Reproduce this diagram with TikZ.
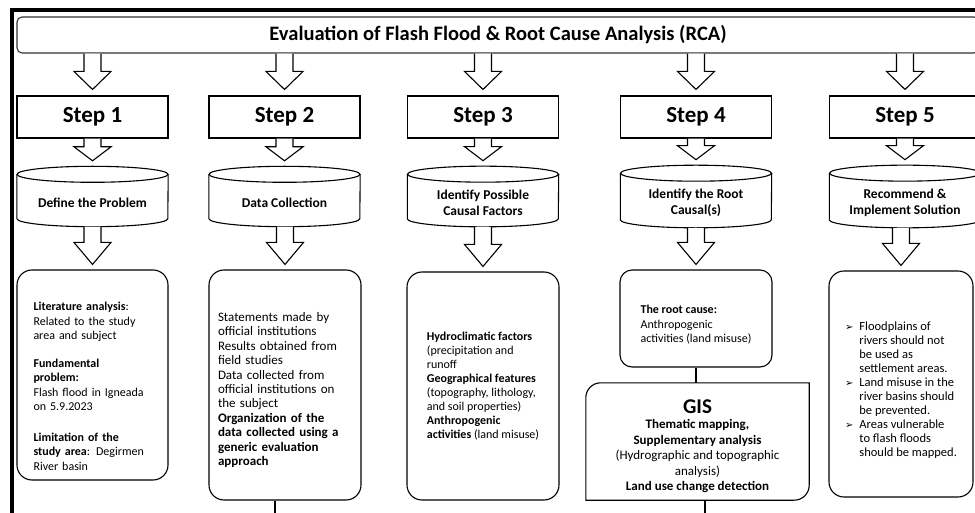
\documentclass[tikz,border=0pt]{standalone}
\usepackage{fontspec}
\setmainfont{Carlito}
\newfontfamily\symfont{DejaVu Sans}
\usetikzlibrary{calc}

% hollow block arrow: source, target, head length
\newcommand{\barrow}[3]{%
  \draw[thin block] let \p1=(#1), \p2=(#2) in
    (\x2-8.5pt,\y1) -- (\x2-8.5pt,\y2+#3) -- (\x2-18.5pt,\y2+#3) -- (\x2,\y2)
    -- (\x2+18.5pt,\y2+#3) -- (\x2+8.5pt,\y2+#3) -- (\x2+8.5pt,\y1);}

% drum outline round a cylinder body node
\newcommand{\drum}[1]{%
  \draw[line width=1.1pt] (#1.north west) -- (#1.south west)
    arc[start angle=180, end angle=360, x radius=75.5pt, y radius=8pt] -- (#1.north east);
  \draw[line width=1.1pt] (#1.north) ellipse [x radius=75.5pt, y radius=8pt];}

\newcommand{\bul}{{\symfont\fontsize{10}{10}\selectfont ➢}}

\begin{document}
\begin{tikzpicture}[x=1pt,y=1pt,
  thin block/.style={draw=black,line width=1.1pt,fill=white},
  title box/.style={draw=black!80,line width=1.1pt,rounded corners=5pt,minimum width=962pt,
    minimum height=36pt,font=\bfseries\fontsize{20.5}{23}\selectfont},
  stepbox/.style={draw,line width=1.1pt,minimum width=151pt,minimum height=42pt,
    font=\bfseries\fontsize{23}{26}\selectfont},
  drum body/.style={minimum width=151pt,minimum height=44pt,align=center,
    font=\bfseries\fontsize{13.5}{15.5}\selectfont},
  text box/.style={draw,line width=1.1pt,rounded corners=15pt,align=left,
    font=\fontsize{12}{14.5}\selectfont}]

  \clip (0,0) rectangle (975,512);

  % outer frame
  \draw[line width=3.5pt] (12,-20) -- (12,502) -- (1000,502);

  \node[title box] (title) at (498,477) {Evaluation of Flash Flood \& Root Cause Analysis (RCA)};

  \node[stepbox] (s1) at (92.5,395) {Step 1};
  \node[stepbox] (s2) at (284.5,395) {Step 2};
  \node[stepbox] (s3) at (483,395) {Step 3};
  \node[stepbox] (s4) at (696,395) {Step 4};
  \node[stepbox] (s5) at (905,395) {Step 5};

  \node[drum body] (c1) at (92.5,315.5) {\rule{0pt}{22pt}Define the Problem};
  \node[drum body] (c2) at (284.5,315.5) {\rule{0pt}{22pt}Data Collection};
  \node[drum body] (c3) at (483,315.5) {\rule{0pt}{22pt}Identify Possible\\Causal Factors};
  \node[drum body] (c4) at (696,315.5) {\rule{0pt}{22pt}Identify the Root\\Causal(s)};
  \node[drum body] (c5) at (905,315.5) {\rule{0pt}{22pt}Recommend \&\\Implement Solution};
  \foreach \c in {c1,c2,c3,c4,c5} {\drum{\c}}

  \node[text box,inner xsep=16.5pt,text width=118pt,minimum height=210pt] (b1) at (92.5,137)
    {\rule{0pt}{31pt}\textbf{Literature analysis}:\\Related to the study\\area and subject\\[13pt]
     \textbf{Fundamental}\\\textbf{problem:}\\Flash flood in Igneada\\on 5.9.2023\\[16pt]
     \textbf{Limitation of the}\\\textbf{study area}: Degirmen\\River basin};
  \node[text box,inner xsep=9pt,text width=134pt,minimum height=230pt,
    font=\fontsize{13}{14.4}\selectfont] (b2) at (285,127)
    {\rule{0pt}{19pt}Statements made by\\official institutions\\Results obtained from\\field studies\\
     Data collected from\\official institutions on\\the subject\\
     \textbf{Organization of the}\\\textbf{data collected using a}\\
     \textbf{generic evaluation}\\\textbf{approach}};
  \node[text box,minimum width=152pt,minimum height=228pt,
    font=\fontsize{12}{14}\selectfont] (b3) at (483,126)
    {\textbf{Hydroclimatic factors}\\(precipitation and\\runoff\\
     \textbf{Geographical features}\\(topography, lithology,\\and soil properties)\\
     \textbf{Anthropogenic}\\\textbf{activities} (land misuse)};
  \node[text box,rounded corners=12pt,minimum width=152pt,minimum height=97pt] (root) at (696,193.5)
    {\rule{0pt}{21pt}\textbf{The root cause:}\\Anthropogenic\\activities (land misuse)};
  \node[align=center,minimum width=223pt,minimum height=117pt,
    font=\fontsize{13}{15.5}\selectfont] (gis) at (697.5,70.5)
    {\rule{0pt}{23pt}{\bfseries\fontsize{21}{24}\selectfont GIS}\\\textbf{Thematic mapping,}\\
     \textbf{Supplementary analysis}\\(Hydrographic and topographic\\analysis)\\
     \textbf{Land use change detection}};
  \node[text box,minimum width=144pt,minimum height=226pt,
    font=\fontsize{12.5}{14}\selectfont] (b5) at (901,128)
    {\begin{tabular}{@{}l@{\hspace{6pt}}l@{}}
     \bul & \rule{0pt}{24pt}Floodplains of\\ & rivers should not\\
       & be used as\\ & settlement areas.\\
     \bul & Land misuse in the\\ & river basins should\\
       & be prevented.\\
     \bul & Areas vulnerable\\ & to flash floods\\
       & should be mapped.
     \end{tabular}};

  % GIS outline: two round corners, two square ones
  \draw[line width=1.1pt] (gis.south west) -- ([yshift=-15pt]gis.north west)
    arc[start angle=180, end angle=90, radius=15pt] -- (gis.north east)
    -- ([yshift=15pt]gis.south east) arc[start angle=0, end angle=-90, radius=15pt] -- cycle;

  % block arrows
  \barrow{title.south}{[yshift=6pt]s1.north}{18pt}
  \barrow{title.south}{[yshift=6pt]s2.north}{18pt}
  \barrow{title.south}{[yshift=6pt]s3.north}{18pt}
  \barrow{title.south}{[yshift=6pt]s4.north}{18pt}
  \barrow{title.south}{[yshift=6pt]s5.north}{18pt}
  \foreach \s/\c in {s1/c1,s2/c2,s3/c3,s4/c4,s5/c5} {
    \barrow{\s.south}{[yshift=13.5pt]\c.north}{14pt}}
  \barrow{[yshift=-8pt]c1.south}{[yshift=5pt]b1.north}{22pt}
  \barrow{[yshift=-8pt]c2.south}{[yshift=5pt]b2.north}{22pt}
  \barrow{[yshift=-8pt]c3.south}{[yshift=5pt]b3.north}{22pt}
  \barrow{[yshift=-8pt]c4.south}{[yshift=5pt]root.north}{22pt}
  \barrow{[yshift=-8pt]c5.south}{[yshift=5pt]b5.north}{22pt}

  % plain connectors
  \coordinate (b2 out) at (275,-5);
  \coordinate (gis out) at (705,-5);
  \draw[line width=1.1pt] (root.south) -- (root.south |- gis.north);
  \draw[line width=1.1pt] (b2.south -| b2 out) -- (b2 out);
  \draw[line width=1.1pt] (gis.south -| gis out) -- (gis out);

\end{tikzpicture}
\end{document}
